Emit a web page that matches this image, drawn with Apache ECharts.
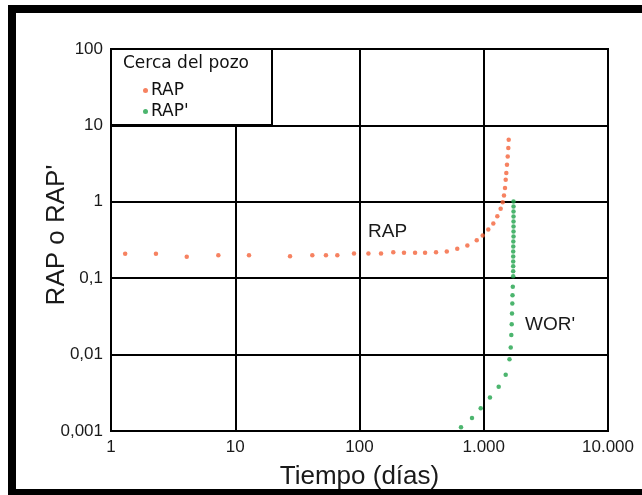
<!DOCTYPE html>
<html><head><meta charset="utf-8">
<script src="https://cdn.jsdelivr.net/npm/echarts@6/dist/echarts.min.js"></script>
<style>html,body{margin:0;padding:0;background:#fff}#c{width:642px;height:495px}</style>
</head><body><div id="c"></div>
<script>
// ---- data ----
const rapX = [1.30, 2.30, 4.07, 7.31, 12.9, 27.6, 41.7, 53.7, 66.3, 90.3, 118, 149, 187, 228, 280, 337, 413, 504, 612, 738, 878, 981, 1088, 1194, 1286, 1368, 1421, 1455, 1483, 1502, 1519, 1538, 1559, 1576, 1588];
const rapY = [0.209, 0.209, 0.191, 0.199, 0.199, 0.194, 0.199, 0.199, 0.199, 0.211, 0.211, 0.211, 0.219, 0.215, 0.215, 0.215, 0.219, 0.224, 0.243, 0.268, 0.314, 0.362, 0.433, 0.519, 0.647, 0.808, 0.985, 1.205, 1.518, 1.95, 2.38, 3.06, 3.93, 5.06, 6.49];
const rapPX = [1736, 1736, 1736, 1736, 1736, 1736, 1736, 1736, 1730, 1728, 1726, 1726, 1726, 1726, 1726, 1726, 1713, 1704, 1698, 1688, 1679, 1667, 1649, 1611, 1502, 1319, 1122, 945, 804, 656];
const rapPY = [1.006, 0.866, 0.745, 0.641, 0.551, 0.474, 0.408, 0.351, 0.302, 0.260, 0.224, 0.193, 0.166, 0.143, 0.123, 0.106, 0.0774, 0.0596, 0.0465, 0.0344, 0.0249, 0.0181, 0.0124, 0.00871, 0.00543, 0.00379, 0.00275, 0.00198, 0.00148, 0.00112];
const xTickLabels = ['1', '10', '100', '1.000', '10.000'];
const yTickLabels = ['0,001', '0,01', '0,1', '1', '10', '100'];
const seriesNames = ['RAP', "RAP'"];
const legendTitle = 'Cerca del pozo';
const xTitle = 'Tiempo (días)';
const yTitle = "RAP o RAP'";
const annotations = [{text: 'RAP', x: 368, y: 232}, {text: "WOR'", x: 525, y: 325}];
// --------------
const ORANGE = '#f4633a', GREEN = '#1fa24a';
const zip = (a, b) => a.map((v, i) => [v, b[i]]);
const chart = echarts.init(document.getElementById('c'), null, {renderer: 'canvas'});
const lineStyle = {color: '#000', width: 2};
const tickFont = {fontFamily: 'Liberation Sans', fontSize: 17, color: '#1a1a1a'};
chart.setOption({
  animation: false,
  backgroundColor: '#fff',
  grid: {left: 111, right: 34, top: 49, bottom: 63, show: true, borderColor: '#000', borderWidth: 2},
  xAxis: {
    type: 'log', logBase: 10, min: 1, max: 10000,
    name: xTitle, nameLocation: 'middle', nameGap: 33, nameMoveOverlap: false,
    nameTextStyle: {fontFamily: 'Liberation Sans', fontSize: 26, color: '#1a1a1a'},
    axisLine: {lineStyle}, axisTick: {show: false},
    splitLine: {show: true, lineStyle}, minorSplitLine: {show: false},
    axisLabel: Object.assign({margin: 8, formatter: v => xTickLabels[Math.round(Math.log10(v))]}, tickFont)
  },
  yAxis: {
    type: 'log', logBase: 10, min: 0.001, max: 100,
    name: yTitle, nameLocation: 'middle', nameGap: 41, nameRotate: 90, nameMoveOverlap: false,
    nameTextStyle: {fontFamily: 'Liberation Sans', fontSize: 26, color: '#1a1a1a', padding: [0, 0, 0, 10]},
    axisLine: {lineStyle}, axisTick: {show: false},
    splitLine: {show: true, lineStyle},
    axisLabel: Object.assign({margin: 8, padding: [0, 0, 10, 0], formatter: v => yTickLabels[Math.round(Math.log10(v)) + 3]}, tickFont)
  },
  legend: {
    show: true, orient: 'vertical', left: 138, top: 77, z: 6,
    icon: 'circle', itemWidth: 5, itemHeight: 5, itemGap: 4,
    textStyle: {fontFamily: 'DejaVu Sans', fontSize: 17, color: '#111', lineHeight: 17, padding: [0, 0, 0, -2]},
    data: seriesNames
  },
  graphic: [
    {type: 'rect', z: 5, shape: {x: 111, y: 49, width: 161, height: 76}, style: {fill: '#fff', stroke: '#000', lineWidth: 2}},
    {type: 'text', z: 6, left: 123, top: 55, style: {text: legendTitle, font: '17px "DejaVu Sans"', fill: '#111'}},
    ...annotations.map(a => ({type: 'text', z: 6, x: a.x, y: a.y, style: {text: a.text, font: '19px "Liberation Sans"', fill: '#1a1a1a', verticalAlign: 'middle'}})),
    {type: 'rect', z: 10, shape: {x: 12, y: 9, width: 700, height: 484}, style: {fill: 'none', stroke: '#000', lineWidth: 8}}
  ],
  series: [
    {name: seriesNames[0], type: 'scatter', symbol: 'circle', symbolSize: 4.5, itemStyle: {color: ORANGE}, data: zip(rapX, rapY), z: 3},
    {name: seriesNames[1], type: 'scatter', symbol: 'circle', symbolSize: 4.5, itemStyle: {color: GREEN}, data: zip(rapPX, rapPY), z: 3}
  ]
});
</script></body></html>
